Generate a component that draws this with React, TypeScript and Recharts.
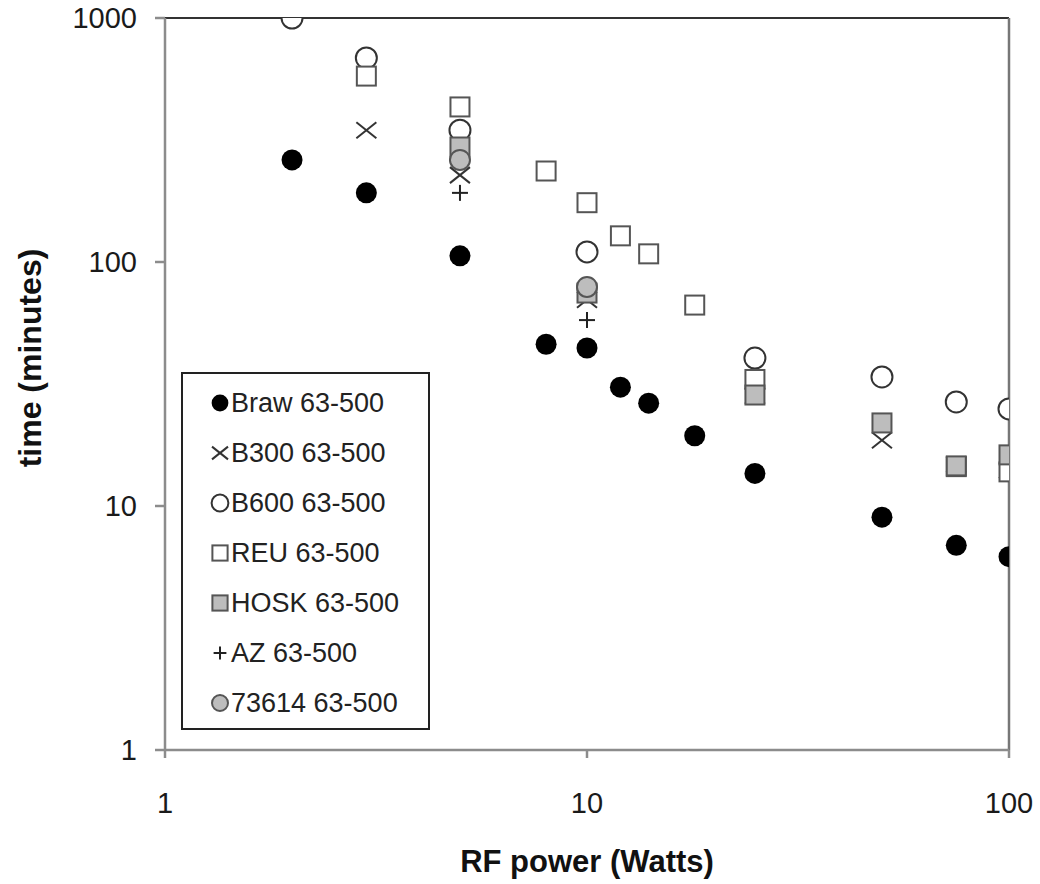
import React from 'react'
import {
  ScatterChart,
  Scatter,
  XAxis,
  YAxis,
  ReferenceLine,
} from 'recharts'

const FONT = "'Liberation Sans', Arial, Helvetica, sans-serif"

// RF power (W) and time (min) per sample
const brawPower = [2, 3, 5, 8, 10, 12, 14, 18, 25, 50, 75, 100]
const brawTime = [262, 192, 106, 46, 44.4, 30.7, 26.4, 19.4, 13.6, 9.0, 6.9, 6.2]

const b300Power = [3, 5, 10, 25, 50, 75, 100]
const b300Time = [347, 227, 70, 28.3, 18.6, 14.8, 14]

const b600Power = [2, 3, 5, 10, 25, 50, 75, 100]
const b600Time = [1000, 686, 347, 110, 40.4, 33.8, 26.7, 25]

const reuPower = [3, 5, 8, 10, 12, 14, 18, 25, 75, 100]
const reuTime = [578, 432, 236, 175, 128, 108, 66.6, 33, 14.5, 13.8]

const hoskPower = [5, 10, 25, 50, 75, 100]
const hoskTime = [296, 74.6, 28.5, 21.9, 14.6, 16.2]

const azPower = [5, 10]
const azTime = [192, 57.8]

const s73614Power = [5, 10]
const s73614Time = [262, 79]

const xTicks = [1, 10, 100]
const yTicks = [1, 10, 100, 1000]

const toPoints = (xs: number[], ys: number[]) => xs.map((x, i) => ({ x, y: ys[i] }))

type Kind = 'dot' | 'cross' | 'ring' | 'box' | 'grayBox' | 'plus' | 'grayDot'

function Mark({ kind, cx, cy, s = 1 }: { kind: Kind; cx: number; cy: number; s?: number }) {
  switch (kind) {
    case 'dot':
      return <circle cx={cx} cy={cy} r={10.5 * s} fill="#000" />
    case 'cross': {
      const d = 10 * s
      return (
        <g stroke="#333" strokeWidth={2}>
          <line x1={cx - d} y1={cy - d * 0.8} x2={cx + d} y2={cy + d * 0.8} />
          <line x1={cx - d} y1={cy + d * 0.8} x2={cx + d} y2={cy - d * 0.8} />
        </g>
      )
    }
    case 'ring':
      return <circle cx={cx} cy={cy} r={10.5 * s} fill="#fff" stroke="#333" strokeWidth={2} />
    case 'box': {
      const h = 9.5 * s
      return <rect x={cx - h} y={cy - h} width={2 * h} height={2 * h} fill="#fff" stroke="#555" strokeWidth={2} />
    }
    case 'grayBox': {
      const h = 9.5 * s
      return <rect x={cx - h} y={cy - h} width={2 * h} height={2 * h} fill="#bdbdbd" stroke="#555" strokeWidth={2} />
    }
    case 'plus': {
      const d = 8 * s
      return (
        <g stroke="#222" strokeWidth={2}>
          <line x1={cx - d} y1={cy} x2={cx + d} y2={cy} />
          <line x1={cx} y1={cy - d} x2={cx} y2={cy + d} />
        </g>
      )
    }
    default:
      return <circle cx={cx} cy={cy} r={10 * s} fill="#bdbdbd" stroke="#555" strokeWidth={2} />
  }
}

const series: { name: string; kind: Kind; data: { x: number; y: number }[] }[] = [
  { name: 'Braw 63-500', kind: 'dot', data: toPoints(brawPower, brawTime) },
  { name: 'B300 63-500', kind: 'cross', data: toPoints(b300Power, b300Time) },
  { name: 'B600 63-500', kind: 'ring', data: toPoints(b600Power, b600Time) },
  { name: 'REU 63-500', kind: 'box', data: toPoints(reuPower, reuTime) },
  { name: 'HOSK 63-500', kind: 'grayBox', data: toPoints(hoskPower, hoskTime) },
  { name: 'AZ 63-500', kind: 'plus', data: toPoints(azPower, azTime) },
  { name: '73614 63-500', kind: 'grayDot', data: toPoints(s73614Power, s73614Time) },
]

function LegendBox() {
  return (
    <div
      style={{
        position: 'absolute',
        left: 181,
        top: 372,
        width: 249,
        height: 358,
        border: '2px solid #222',
        background: '#fff',
        boxSizing: 'border-box',
        paddingTop: 4,
        fontFamily: FONT,
      }}
    >
      {series.map((s) => (
        <div key={s.name} style={{ height: 50, display: 'flex', alignItems: 'center' }}>
          <svg width={48} height={50} style={{ flex: 'none' }}>
            <Mark kind={s.kind} cx={37} cy={25} s={0.8} />
          </svg>
          <span style={{ fontSize: 27, color: '#222', lineHeight: 1 }}>{s.name}</span>
        </div>
      ))}
    </div>
  )
}

function YTitle() {
  return (
    <text
      x={30}
      y={358}
      transform="rotate(-90 30 358)"
      textAnchor="middle"
      dominantBaseline="central"
      fontFamily={FONT}
      fontWeight="bold"
      fontSize={32}
      fill="#111"
    >
      time (minutes)
    </text>
  )
}

const tickStyle = { fontSize: 29, fill: '#1a1a1a', fontFamily: FONT }

export default function App() {
  return (
    <div style={{ position: 'absolute', left: 0, top: 0, width: 1040, height: 884, background: '#fff' }}>
      <ScatterChart width={1040} height={884} margin={{ top: 18, right: 31, bottom: 0, left: 0 }}>
        <XAxis
          dataKey="x"
          type="number"
          scale="log"
          domain={[1, 100]}
          ticks={xTicks}
          allowDataOverflow
          height={134}
          tickSize={8}
          tickMargin={34}
          tick={tickStyle}
          stroke="#8c8c8c"
          strokeWidth={2.5}
          label={{
            value: 'RF power (Watts)',
            position: 'insideBottom',
            offset: 12,
            fontSize: 31,
            fontWeight: 'bold',
            fill: '#111',
            fontFamily: FONT,
          }}
        />
        <YAxis
          dataKey="y"
          type="number"
          scale="log"
          domain={[1, 1000]}
          ticks={yTicks}
          allowDataOverflow
          width={165}
          tickSize={10}
          tickMargin={18}
          tick={tickStyle}
          stroke="#8c8c8c"
          strokeWidth={2.5}
          label={<YTitle />}
        />
        <ReferenceLine y={1000} stroke="#333" strokeWidth={2} />
        <ReferenceLine x={100} stroke="#777" strokeWidth={2.5} />
        {series.map((s) => (
          <Scatter
            key={s.name}
            name={s.name}
            data={s.data}
            isAnimationActive={false}
            shape={(p: any) => <Mark kind={s.kind} cx={p.cx} cy={p.cy} />}
          />
        ))}
      </ScatterChart>
      <LegendBox />
    </div>
  )
}
